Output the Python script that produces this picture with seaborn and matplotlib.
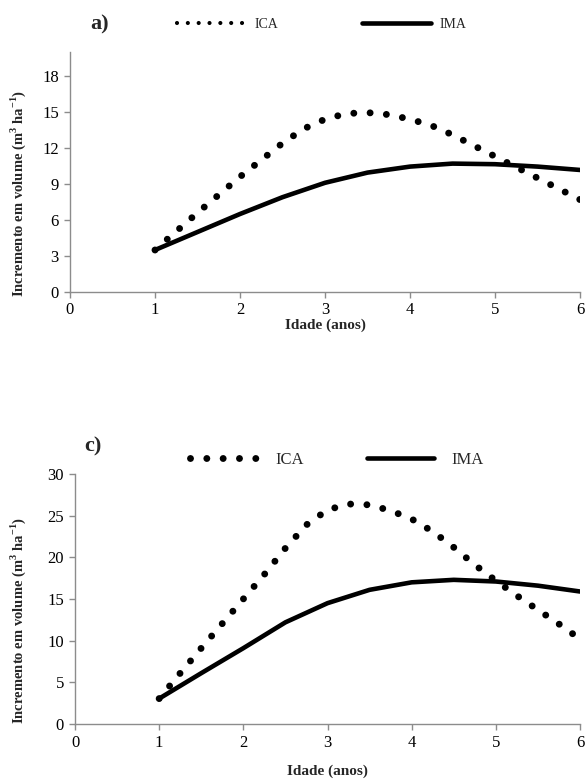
import matplotlib
matplotlib.use("Agg")
import matplotlib.pyplot as plt
from matplotlib.lines import Line2D
import seaborn as sns

# Panel a)
idade_ica = [1.0, 1.25, 1.5, 1.75, 2.0, 2.25, 2.5, 2.75, 3.0, 3.25, 3.5,
             3.75, 4.0, 4.25, 4.5, 4.75, 5.0, 5.25, 5.5, 5.75, 6.0]
ica_a = [3.5, 5.05, 6.6, 8.1, 9.6, 11.0, 12.4, 13.6, 14.4, 14.87, 14.95,
         14.78, 14.4, 13.88, 13.1, 12.2, 11.3, 10.4, 9.5, 8.6, 7.7]
idade_ima = [1.0, 1.5, 2.0, 2.5, 3.0, 3.5, 4.0, 4.5, 5.0, 5.5, 6.0]
ima_a = [3.5, 5.0, 6.5, 7.9, 9.1, 9.95, 10.45, 10.7, 10.65, 10.45, 10.17]

# Panel c)
ica_c = [3.05, 6.1, 9.1, 12.05, 15.0, 17.95, 21.1, 23.9, 25.7, 26.4, 26.3,
         25.6, 24.6, 23.1, 21.2, 19.1, 17.2, 15.4, 13.7, 12.0, 10.2]
ima_c = [3.05, 6.1, 9.1, 12.2, 14.5, 16.1, 17.0, 17.3, 17.1, 16.6, 15.9]

sns.set_theme(style="white")
plt.rcParams["font.family"] = ["Liberation Serif", "DejaVu Serif"]
plt.rcParams["mathtext.fontset"] = "custom"
plt.rcParams["mathtext.rm"] = "Liberation Serif"
plt.rcParams["mathtext.bf"] = "Liberation Serif:bold"

AXIS_GREY = "#8c8c8c"
DOT_LW = 5.0
DOT_GAP = 2.35
LINE_LW = 3.3
YLABEL = r"Incremento em volume (m$^{\mathbf{3}}$ ha$^{\mathbf{-1}}$)"


def style_axis(ax, ylim, yticks):
    ax.set_xlim(0, 6)
    ax.set_ylim(*ylim)
    ax.set_xticks(range(0, 7))
    ax.set_yticks(yticks)
    for side in ("top", "right"):
        ax.spines[side].set_visible(False)
    for side in ("left", "bottom"):
        ax.spines[side].set_color(AXIS_GREY)
        ax.spines[side].set_linewidth(1.0)
    ax.tick_params(axis="both", direction="out", length=4, width=1,
                   color=AXIS_GREY, labelsize=12, labelcolor="black", pad=4,
                   left=True, bottom=True)


def draw_panel(ax, ica, ima):
    sns.lineplot(x=idade_ica, y=ica, ax=ax, color="black", lw=DOT_LW,
                 dash_capstyle="round", sort=False)
    ax.lines[-1].set_dashes((0.001, DOT_GAP))
    sns.lineplot(x=idade_ima, y=ima, ax=ax, color="black", lw=LINE_LW,
                 solid_capstyle="round", sort=False)


fig = plt.figure(figsize=(5.85, 7.83), dpi=100)

# ---- panel a)
ax1 = fig.add_axes([70 / 585, 1 - 292 / 783, 510 / 585, 240 / 783])
draw_panel(ax1, ica_a, ima_a)
style_axis(ax1, (0, 20), range(0, 19, 3))
ax1.tick_params(axis="x", pad=3)
ax1.set_xlabel("Idade (anos)", fontsize=11, fontweight="bold")
ax1.set_ylabel(YLABEL, fontsize=10.5, fontweight="bold")
ax1.xaxis.set_label_coords(0.5, -0.11)
ax1.yaxis.set_label_coords(-0.082, 0.41)
fig.text(100 / 585, 1 - 24 / 783, "a)", fontsize=16, fontweight="bold",
         ha="center", va="center")

h_ica_a = Line2D([], [], color="black", lw=3.0, dash_capstyle="round",
                 dashes=(0.001, 2.6))
h_ima_a = Line2D([], [], color="black", lw=LINE_LW, solid_capstyle="round")
ax1.legend([h_ica_a, h_ima_a], ["ICA", "IMA"], ncol=2, frameon=False,
           fontsize=10, handlelength=5.0, handletextpad=0.6,
           columnspacing=6.0, borderpad=0, borderaxespad=0,
           loc="center left", bbox_to_anchor=(177 / 585, 1 - 24 / 783),
           bbox_transform=fig.transFigure)

# ---- panel c)
ax2 = fig.add_axes([75 / 585, 1 - 724 / 783, 505 / 585, 250 / 783])
draw_panel(ax2, ica_c, ima_c)
style_axis(ax2, (0, 30), range(0, 31, 5))
ax2.set_xlabel("Idade (anos)", fontsize=11, fontweight="bold")
ax2.set_ylabel(YLABEL, fontsize=10.5, fontweight="bold")
ax2.xaxis.set_label_coords(0.5, -0.164)
ax2.yaxis.set_label_coords(-0.093, 0.416)
fig.text(93 / 585, 1 - 446 / 783, "c)", fontsize=16, fontweight="bold",
         ha="center", va="center")

h_ica_c = Line2D([], [], color="black", lw=DOT_LW, dash_capstyle="round",
                 dashes=(0.001, DOT_GAP))
h_ima_c = Line2D([], [], color="black", lw=LINE_LW, solid_capstyle="round")
ax2.legend([h_ica_c, h_ima_c], ["ICA", "IMA"], ncol=2, frameon=False,
           fontsize=12, handlelength=4.0, handletextpad=1.1,
           columnspacing=3.8, borderpad=0, borderaxespad=0,
           loc="center left", bbox_to_anchor=(190 / 585, 1 - 460 / 783),
           bbox_transform=fig.transFigure)

fig.savefig("out.png", dpi=100)
